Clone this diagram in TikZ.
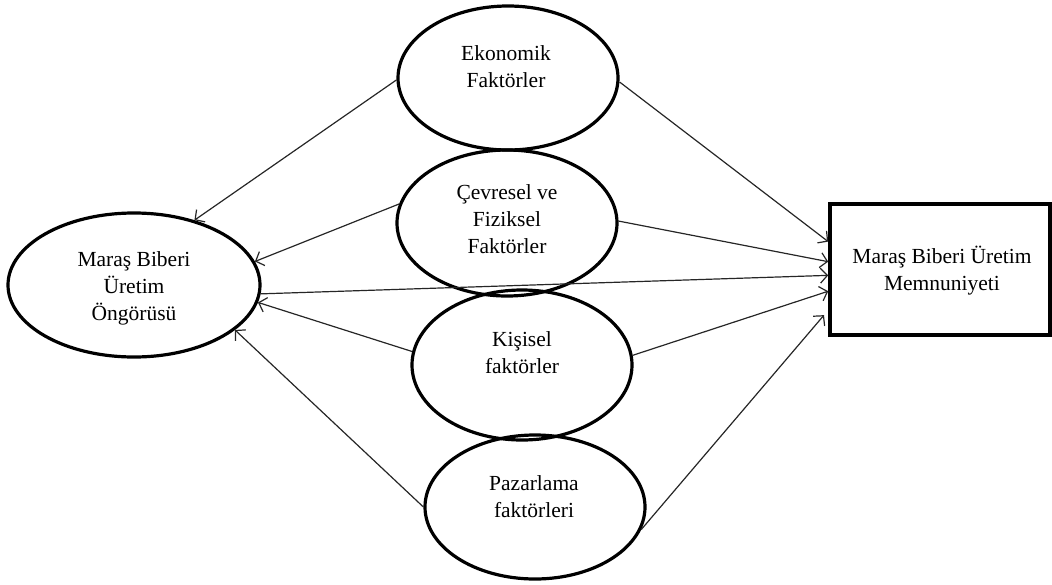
\documentclass[tikz,border=0pt]{standalone}
\usepackage{fontspec}
\setmainfont{Liberation Serif}
\usetikzlibrary{arrows.meta,shapes.geometric}
\begin{document}
\begin{tikzpicture}[x=1pt,y=1pt,
  ell/.style={draw,ellipse,line width=3.2pt,inner sep=0pt},
  box/.style={draw,rectangle,line width=3.6pt,inner sep=0pt,minimum width=220pt,minimum height=131pt},
  txt/.style={align=center,font=\fontsize{21.5}{27}\selectfont,inner sep=0pt},
  con/.style={line width=1.2pt,draw=black!85,-{Straight Barb[length=7pt,width=15pt,line width=1.2pt]}}]

\useasboundingbox (0,0) rectangle (1052,-584);

% shapes
\node[ell,minimum width=252pt,minimum height=144pt] (left) at (134,-285) {};
\node[ell,minimum width=220pt,minimum height=144pt] (eko) at (508,-78) {};
\node[ell,minimum width=220pt,minimum height=146pt] (cev) at (507,-223) {};
\node[ell,minimum width=220pt,minimum height=150pt] (kis) at (522,-365) {};
\node[ell,minimum width=220pt,minimum height=144pt] (paz) at (535,-507) {};
\node[box] (mm) at (940,-269.5) {};

% texts
\node[txt] (leftt) at (134,-288) {Maraş Biberi\\Üretim\\Öngörüsü};
\node[txt] (ekot) at (506,-67) {Ekonomik\\Faktörler};
\node[txt] (cevt) at (507,-219) {Çevresel ve\\Fiziksel\\Faktörler};
\node[txt] (kist) at (522,-353) {Kişisel\\faktörler};
\node[txt] (pazt) at (534,-497) {Pazarlama\\faktörleri};
\node[txt] (mmt) at (942,-271) {Maraş Biberi Üretim\\Memnuniyeti};

% connectors to the left ellipse
\draw[con] (eko.181) -- (left.47);
\draw[con] (cev.170) -- (left.11);
\draw[con] (kis.173) -- (left.352);
\draw[con] (paz.180) -- (left.336);

% connectors to the rectangle
\draw[con] (eko.358) -- (mm.166.5);
\draw[con] (cev.1.5) -- (mm.176);
\draw[con] (left.356) -- (mm.183);
\draw[con] (kis.5) -- (mm.191.6);
\draw[con,shorten >=6.5pt] (paz.348) -- (mm.200.2);
\end{tikzpicture}
\end{document}
